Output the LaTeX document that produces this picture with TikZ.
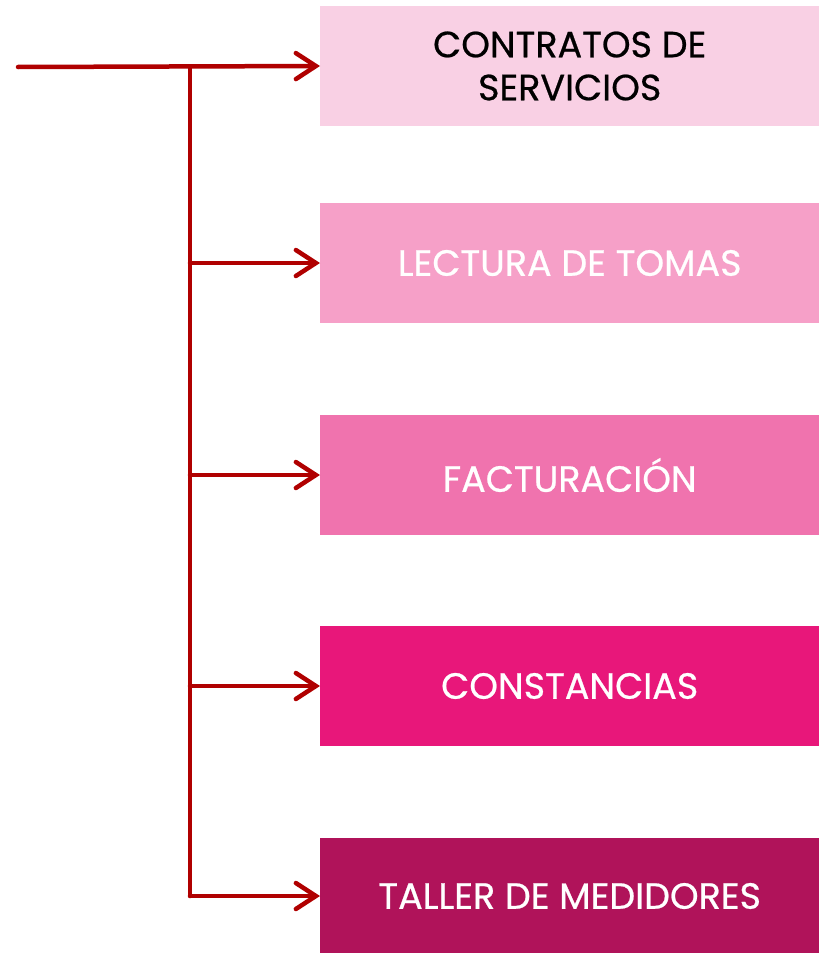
\documentclass[tikz,border=0pt]{standalone}
\usepackage{fontspec}
\setmainfont{Poppins}[FakeBold=0.6]
\usepackage{xcolor}
\usetikzlibrary{arrows.meta,calc}
\definecolor{linea}{HTML}{B00000}
\definecolor{rosaA}{HTML}{F9D0E4}
\definecolor{rosaB}{HTML}{F6A0C8}
\definecolor{rosaC}{HTML}{F073AE}
\definecolor{rosaD}{HTML}{E8177A}
\definecolor{rosaE}{HTML}{B0135A}
\tikzset{
  caja/.style={anchor=west,minimum width=499pt,minimum height=120pt,inner sep=0pt,
    align=center,text=white,font=\fontsize{36.5}{43}\selectfont},
  flecha/.style={draw=linea,line width=4.5pt,line cap=round,line join=round,
    -{Straight Barb[length=20pt,width=26pt,line cap=round]}}
}

\begin{document}
\begin{tikzpicture}[x=1pt,y=-1pt]
\useasboundingbox (0,0) rectangle (823,953);
\node [caja,fill=rosaA,text=black] (contratos) at (320,66) {CONTRATOS DE\\SERVICIOS};
\node [caja,fill=rosaB] (lectura) at (320,263) {LECTURA DE TOMAS};
\node [caja,fill=rosaC] (facturacion) at (320,475) {FACTURACIÓN};
\node [caja,fill=rosaD] (constancias) at (320,686) {CONSTANCIAS};
\node [caja,fill=rosaE,minimum height=116pt] (taller) at (320,896) {TALLER DE MEDIDORES};
\coordinate (inicio) at (18,67);
\coordinate (tronco) at (190,67);
% linea principal y tronco
\draw [flecha] (inicio) -- (contratos.west);
\draw [draw=linea,line width=4.5pt,line cap=round,line join=round] (tronco) -- (tronco |- taller.west);
\draw [flecha] (tronco |- lectura.west) -- (lectura.west);
\draw [flecha] (tronco |- facturacion.west) -- (facturacion.west);
\draw [flecha] (tronco |- constancias.west) -- (constancias.west);
\draw [flecha] (tronco |- taller.west) -- (taller.west);
\end{tikzpicture}
\end{document}
